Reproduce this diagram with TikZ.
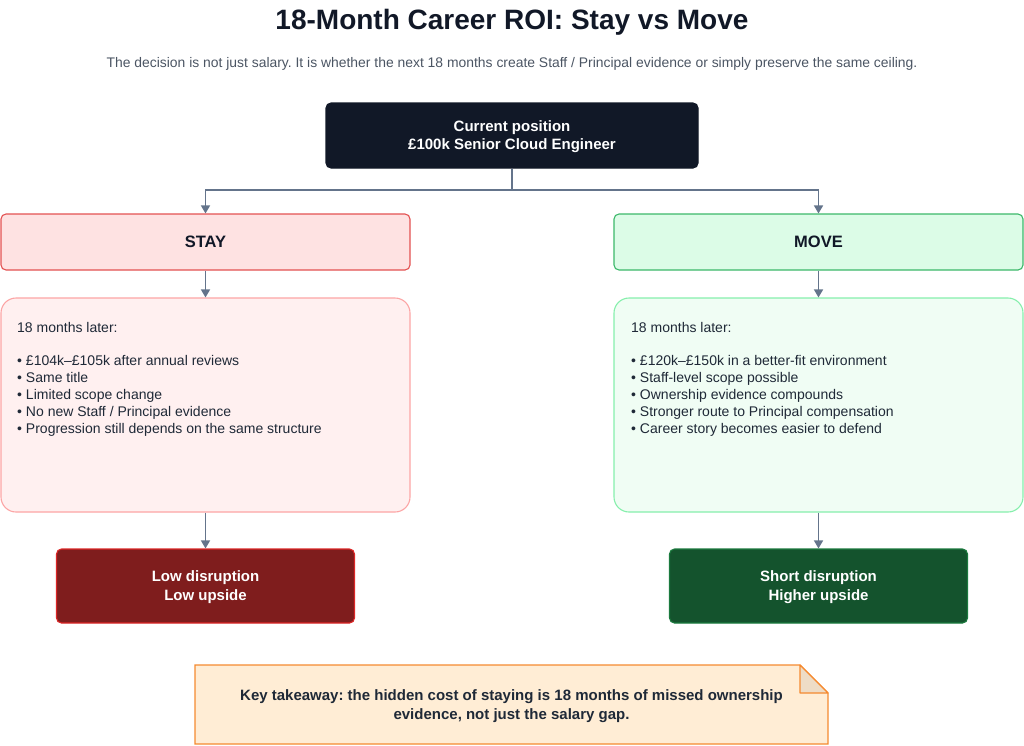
\documentclass[tikz,border=0pt]{standalone}
\usepackage{fontspec}
\setmainfont{Liberation Sans}
\usetikzlibrary{arrows.meta}
\frenchspacing
\definecolor{navy}{HTML}{111827}
\definecolor{slate}{HTML}{64748B}
\definecolor{subgray}{HTML}{4B5563}
\definecolor{ink}{HTML}{1F2937}
\definecolor{stayfill}{HTML}{FEE2E2}
\definecolor{stayline}{HTML}{E35151}
\definecolor{movefill}{HTML}{DCFCE7}
\definecolor{moveline}{HTML}{3CB86A}
\definecolor{staydfill}{HTML}{FFF0F0}
\definecolor{staydline}{HTML}{FCA5A5}
\definecolor{movedfill}{HTML}{F0FDF4}
\definecolor{movedline}{HTML}{86EFAC}
\definecolor{lowfill}{HTML}{7F1D1D}
\definecolor{lowline}{HTML}{DC2626}
\definecolor{shortfill}{HTML}{14532D}
\definecolor{shortline}{HTML}{1B7A3E}
\definecolor{notefill}{HTML}{FFEDD5}
\definecolor{noteline}{HTML}{F58A30}
\definecolor{foldfill}{HTML}{EEDCC6}
\tikzset{
  boxbase/.style={rectangle, line width=1.1pt, inner sep=0pt, align=center},
  topbox/.style={boxbase, draw=navy, fill=navy, rounded corners=5pt, text=white,
    font=\fontsize{15}{18.5}\selectfont\bfseries},
  choice/.style={boxbase, rounded corners=5pt, text=navy,
    font=\fontsize{16.5}{18}\selectfont\bfseries},
  detail/.style={boxbase, rounded corners=15pt},
  detailtext/.style={anchor=north west, inner sep=0pt, align=left, text=ink,
    font=\fontsize{14}{16.8}\selectfont},
  outcome/.style={boxbase, rounded corners=5pt, text=white,
    font=\fontsize{15}{18.5}\selectfont\bfseries},
  conn/.style={draw=slate, line width=1.5pt, -{Triangle[length=8pt,width=9pt]}},
  plainconn/.style={draw=slate, line width=1.5pt},
}
\begin{document}
\begin{tikzpicture}[x=1pt,y=-1pt]
\useasboundingbox (0,0) rectangle (1024,745);

\node[text=navy, font=\fontsize{28}{30}\selectfont\bfseries] (title) at (512,22) {18-Month Career ROI: Stay vs Move};
\node[text=subgray, font=\fontsize{13.9}{16}\selectfont] (subtitle) at (512,64) {The decision is not just salary. It is whether the next 18 months create Staff / Principal evidence or simply preserve the same ceiling.};

\node[topbox, minimum width=372pt, minimum height=65pt] (top) at (512,135.5) {\rule{0pt}{13pt}Current position\\£100k Senior Cloud Engineer};

\node[choice, draw=stayline, fill=stayfill, minimum width=409pt, minimum height=56pt] (stay) at (205.5,242) {STAY};
\node[choice, draw=moveline, fill=movefill, minimum width=409pt, minimum height=56pt] (move) at (818.5,242) {MOVE};

\coordinate (split) at (512,190);
\draw[plainconn] (top.south) -- (split);
\draw[conn] (split) -| (stay.north);
\draw[conn] (split) -| (move.north);

\node[detail, draw=staydline, fill=staydfill, minimum width=409pt, minimum height=214pt] (stayd) at (205.5,405) {};
\node[detail, draw=movedline, fill=movedfill, minimum width=409pt, minimum height=214pt] (moved) at (818.5,405) {};

\node[detailtext] (staytxt) at (17,322) {18 months later:\\[16.8pt]
• £104k–£105k after annual reviews\\
• Same title\\
• Limited scope change\\
• No new Staff / Principal evidence\\
• Progression still depends on the same structure};

\node[detailtext] (movetxt) at (631,322) {18 months later:\\[16.8pt]
• £120k–£150k in a better-fit environment\\
• Staff-level scope possible\\
• Ownership evidence compounds\\
• Stronger route to Principal compensation\\
• Career story becomes easier to defend};

\draw[conn] (stay.south) -- (stayd.north);
\draw[conn] (move.south) -- (moved.north);

\node[outcome, draw=lowline, fill=lowfill, minimum width=298pt, minimum height=74pt] (low) at (205.5,586) {\rule{0pt}{13pt}Low disruption\\Low upside};
\node[outcome, draw=shortline, fill=shortfill, minimum width=298pt, minimum height=74pt] (short) at (818.5,586) {\rule{0pt}{13pt}Short disruption\\Higher upside};

\draw[conn] (stayd.south) -- (low.north);
\draw[conn] (moved.south) -- (short.north);

\draw[draw=noteline, fill=notefill, line width=1.1pt] (195,665) -- (800,665) -- (828,693) -- (828,744) -- (195,744) -- cycle;
\draw[draw=noteline, fill=foldfill, line width=1.1pt, line join=round] (800,665) -- (800,693) -- (828,693) -- cycle;
\node[text=ink, align=center, font=\fontsize{15}{19}\selectfont\bfseries] (note) at (511.5,706) {Key takeaway: the hidden cost of staying is 18 months of missed ownership\\evidence, not just the salary gap.};
\end{tikzpicture}
\end{document}
